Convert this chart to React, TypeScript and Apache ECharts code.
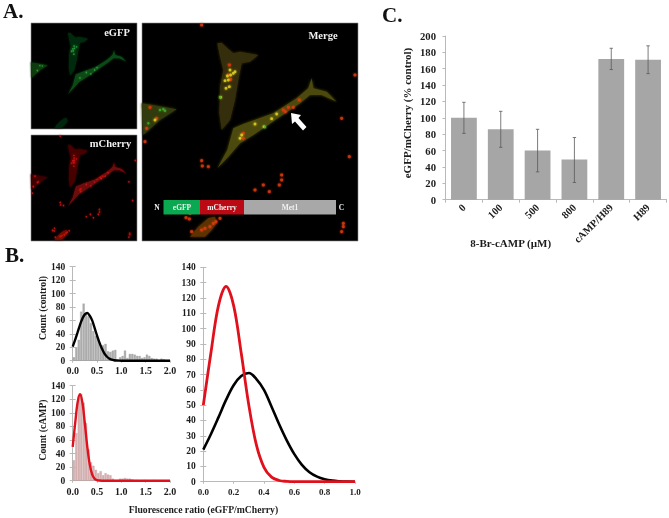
import React, { useEffect, useRef } from "react";
import * as echarts from "echarts";

const FONT = '"Liberation Serif", "Times New Roman", serif';
const INK = "#1c1c1c";
const AXIS = "#b9b9b9";

// Panel C
const doseLabels = ["0", "100", "500", "800", "cAMP/H89", "H89"];
const ratioMeans = [100, 86, 60, 49, 172, 171];
const ratioLows = [81, 64, 34, 21, 159, 154];
const ratioHighs = [119, 108, 86, 76, 185, 188];

// Panel B histograms, bins of 0.05 from 0 to 2
const controlCounts = [5, 20, 31, 73, 85, 71, 66, 56, 44, 37, 31, 23, 23, 25, 14, 13, 15, 16, 2, 5, 7, 15, 4, 10, 10, 9, 7, 7, 4, 5, 9, 7, 4, 3, 3, 1, 3, 2, 1, 1];
const campCounts = [30, 70, 125, 128, 115, 85, 46, 27, 22, 16, 11, 14, 8, 11, 9, 8, 3, 1, 1, 3, 3, 4, 3, 3, 2, 1, 1, 0, 0, 1, 0, 0, 0, 1, 0, 0, 0, 0, 0, 0];

// Panel B fitted curves
const curveX = [0, 0.05, 0.1, 0.15, 0.2, 0.25, 0.3, 0.35, 0.4, 0.45, 0.5, 0.55, 0.6, 0.65, 0.7, 0.75, 0.8, 0.85, 0.9, 0.95, 1];
const controlCurve = [21, 31, 42, 53.4, 63, 69, 71, 67, 60, 49, 37.5, 27, 18, 11, 6.2, 3.3, 1.6, 0.7, 0.3, 0.1, 0];
const campCurve = [50, 84, 115, 127.5, 115, 84, 50, 24, 9.4, 3, 0.8, 0.2, 0, 0, 0, 0, 0, 0, 0, 0, 0];

// Panel A micrograph outlines and spots, in crop coordinates of the merged image
const mainCell = [[232, 445], [262, 390], [280, 325], [310, 312], [400, 280], [470, 235], [505, 205], [515, 175], [520, 205], [560, 215], [590, 245], [545, 225], [510, 225], [480, 250], [420, 290], [340, 345], [300, 370], [265, 410]];
const upperCell = [[232, 70], [245, 68], [262, 85], [280, 100], [300, 95], [325, 100], [355, 105], [330, 125], [305, 130], [295, 180], [285, 240], [270, 300], [245, 330], [238, 280], [240, 200], [250, 150], [240, 110]];
const leftCell = [[5, 250], [40, 255], [110, 268], [60, 300], [10, 345]];
const lowerCell = [[150, 650], [175, 620], [205, 595], [225, 590], [230, 610], [215, 630], [195, 650]];
const yellowSpots = [[280, 160], [272, 165], [285, 155], [265, 180], [255, 182], [268, 200], [258, 205], [242, 232], [410, 282], [345, 312], [372, 320], [300, 355], [305, 345], [395, 296], [45, 300], [262, 168], [270, 150]];
const redSpots = [[268, 135], [265, 165], [272, 178], [30, 262], [50, 295], [20, 325], [430, 270], [445, 262], [460, 262], [478, 240], [436, 275], [310, 355], [310, 340], [185, 15], [645, 165], [605, 295], [628, 410], [187, 438], [15, 365], [370, 495], [388, 515], [425, 465], [425, 480], [418, 495], [345, 510], [185, 422], [205, 440], [150, 580], [148, 597], [138, 593], [610, 620], [605, 635], [610, 610], [155, 635], [185, 630], [228, 605], [240, 595], [210, 620], [195, 625], [220, 610]];
const greenSpots = [[75, 272], [60, 270], [25, 310], [240, 232], [375, 322], [70, 268]];

const abs = ([zx, zy]: number[]) => [140 + zx / 3, 20 + zy / 3];
const toSmall = (top: number) => ([x, y]: number[]) => [31 + (x - 142) * 0.49, top + (y - 23) * 0.49];
const pairs = (ys: number[]) => curveX.map((x, i) => [x, ys[i]]);
const longPairs = (ys: number[]) => [...pairs(ys), [2, 0]];
const bins = (counts: number[]) => counts.map((c, i) => [i * 0.05 + 0.025, c]);

function panel(x: number, y: number, size: number, h: number, map: (p: number[]) => number[], colors: any, k: number) {
  const out: any[] = [
    { type: "rect", shape: { x, y, width: size, height: h }, style: { fill: "#000", stroke: "#8a8a8a", lineWidth: 0.6 }, z: 1 },
  ];
  const poly = (pts: number[][], fill: string) =>
    out.push({ type: "polygon", shape: { points: pts.map(abs).map(map) }, style: { fill, shadowBlur: 3 * k, shadowColor: fill }, z: 2 });
  poly(upperCell, colors.upper);
  poly(leftCell, colors.left);
  poly(lowerCell, colors.lower);
  poly(mainCell, colors.main);
  const dots = (pts: number[][], fill: string, r: number) =>
    pts.forEach((p) => {
      const [cx, cy] = map(abs(p));
      if (fill) out.push({ type: "circle", shape: { cx, cy, r: r * k }, style: { fill, opacity: 0.85, shadowBlur: 2, shadowColor: fill }, z: 3 });
    });
  dots(redSpots, colors.red, 1.6);
  dots(yellowSpots, colors.yellow, 1.4);
  dots(greenSpots, colors.green, 1.2);
  return out;
}

const label = (text: string, x: number, y: number, size: number, fill = INK, align = "center", rotation = 0) => ({
  type: "text",
  x,
  y,
  rotation,
  z: 6,
  style: { text, fill, font: `bold ${size}px ${FONT}`, textAlign: align, textVerticalAlign: "middle" },
});

const grids = [
  { left: 445.5, top: 36, width: 221, height: 163.7 },
  { left: 72.7, top: 266.7, width: 97.3, height: 94 },
  { left: 72.7, top: 385.7, width: 97.3, height: 95 },
  { left: 203.3, top: 267.3, width: 151.7, height: 214.4 },
];

const axisLine = { show: true, lineStyle: { color: AXIS, width: 1 } };

function valueX(gridIndex: number, max: number, interval: number, size: number, margin: number) {
  return {
    type: "value", gridIndex, min: 0, max, interval,
    splitLine: { show: false },
    axisLine,
    axisTick: { show: true, length: 2, lineStyle: { color: AXIS } },
    axisLabel: { color: INK, fontFamily: FONT, fontWeight: "bold", fontSize: size, margin, formatter: (v: number) => v.toFixed(1) },
  };
}
function valueY(gridIndex: number, max: number, interval: number, size: number, margin: number) {
  return {
    type: "value", gridIndex, min: 0, max, interval,
    splitLine: { show: false },
    axisLine,
    axisTick: { show: true, length: 3, lineStyle: { color: AXIS } },
    axisLabel: { color: INK, fontFamily: FONT, fontWeight: "bold", fontSize: size, margin },
  };
}
function innerTicks(gridIndex: number, max: number, interval: number) {
  return {
    type: "value", gridIndex, min: 0, max, interval, position: "left",
    splitLine: { show: false },
    axisLine: { show: false },
    axisTick: { show: true, inside: true, length: 3, lineStyle: { color: AXIS } },
    axisLabel: { show: false },
  };
}

function histBar(name: string, i: number, data: number[], color: string, edge: string) {
  return {
    name, type: "bar", xAxisIndex: i, yAxisIndex: i, data: bins(data), barWidth: 2.1,
    itemStyle: { color, borderColor: edge, borderWidth: 0.3 }, z: 2,
  };
}
function curve(name: string, xi: number, yi: number, data: number[][], color: string, width: number, z = 3) {
  return {
    name, type: "line", xAxisIndex: xi, yAxisIndex: yi, data, showSymbol: false, symbol: "none", smooth: 0.35,
    clip: false, lineStyle: { color, width }, z,
  };
}

function buildGraphic() {
  const greenCols = { main: "#0a4a14", upper: "#062c0c", left: "#083a10", lower: "#05280a", red: "", yellow: "#2fa83e", green: "#2fa83e" };
  const redCols = { main: "#6a0808", upper: "#460606", left: "#3a0505", lower: "#6a0c06", red: "#c81414", yellow: "#c81414", green: "" };
  const mergeCols = { main: "#4c4a0c", upper: "#362e08", left: "#323a0a", lower: "#5c3206", red: "#d83a10", yellow: "#e0d01c", green: "#38b428" };
  const V = Math.PI / 2;
  const elements: any[] = [
    ...panel(31, 23, 106, 106, toSmall(23), greenCols, 0.55),
    ...panel(31, 135, 106, 106, toSmall(135), redCols, 0.55),
    ...panel(142, 23, 216, 218, (p) => p, mergeCols, 1),
    label("eGFP", 117, 32, 10.5, "#f0f0f0"),
    label("mCherry", 110.5, 143, 10.5, "#f0f0f0"),
    label("Merge", 323, 35.5, 10.5, "#f0f0f0"),
    { type: "polygon", shape: { points: [[291, 113], [301, 115], [298.5, 118], [306.5, 127], [303, 130.5], [295, 121.5], [292, 124]] }, style: { fill: "#fff" }, z: 5 },
    { type: "rect", shape: { x: 163.5, y: 200, width: 36.5, height: 14.5 }, style: { fill: "#0aa850" }, z: 4 },
    { type: "rect", shape: { x: 200, y: 200, width: 44, height: 14.5 }, style: { fill: "#bb0a14" }, z: 4 },
    { type: "rect", shape: { x: 244, y: 200, width: 92, height: 14.5 }, style: { fill: "#a8a8a8" }, z: 4 },
    label("N", 157, 207.5, 7.5, "#f0f0f0"),
    label("eGFP", 182, 207.5, 7.5, "#f0f0f0"),
    label("mCherry", 222, 207.5, 7.5, "#f0f0f0"),
    label("Met1", 290, 207.5, 7.5, "#f0f0f0"),
    label("C", 341.5, 207.5, 7.5, "#f0f0f0"),
    label("A.", 3, 11, 21, "#111", "left"),
    label("B.", 5, 255, 21, "#111", "left"),
    label("C.", 382, 15, 21, "#111", "left"),
    label("Fluorescence ratio (eGFP/mCherry)", 203.5, 509, 9.7),
    label("8-Br-cAMP (\u00b5M)", 510.7, 243, 11),
    label("eGFP/mCherry (% control)", 406.5, 113, 11, INK, "center", V),
    label("Count (control)", 42, 308, 9.7, INK, "center", V),
    label("Count (cAMP)", 42, 430, 9.7, INK, "center", V),
  ];
  return elements;
}

export default function App() {
  const ref = useRef<HTMLDivElement>(null);
  useEffect(() => {
    const chart = echarts.init(ref.current!, null, { renderer: "svg" });
    chart.setOption({
      animation: false,
      backgroundColor: "#fff",
      grid: grids,
      xAxis: [
        {
          type: "category", gridIndex: 0, data: doseLabels,
          axisLine,
          axisTick: { show: true, length: 3, lineStyle: { color: AXIS } },
          axisLabel: { color: INK, fontFamily: FONT, fontWeight: "bold", fontSize: 10.5, rotate: 45, margin: 6, interval: 0 },
        },
        valueX(1, 2, 0.5, 10, 5),
        valueX(2, 2, 0.5, 10, 6),
        valueX(3, 1, 0.2, 9, 6),
      ],
      yAxis: [
        valueY(0, 200, 20, 10.7, 9.5),
        valueY(1, 140, 20, 9.5, 7.5),
        valueY(2, 140, 20, 9.5, 7.5),
        valueY(3, 140, 10, 9.5, 7.5),
        innerTicks(1, 140, 20),
        innerTicks(2, 140, 20),
        innerTicks(3, 140, 10),
      ],
      series: [
        {
          name: "eGFP/mCherry", type: "bar", xAxisIndex: 0, yAxisIndex: 0, data: ratioMeans,
          barWidth: "70%", itemStyle: { color: "#a6a6a6" }, z: 2,
        },
        {
          name: "SD", type: "custom", xAxisIndex: 0, yAxisIndex: 0, z: 3,
          data: doseLabels.map((_, i) => [i, ratioLows[i], ratioHighs[i]]),
          encode: { x: 0, y: [1, 2] },
          renderItem: (_: any, api: any) => {
            const lo = api.coord([api.value(0), api.value(1)]);
            const hi = api.coord([api.value(0), api.value(2)]);
            const st = { stroke: "#5a5a5a", lineWidth: 0.8 };
            const seg = (x1: number, y1: number, x2: number, y2: number) => ({ type: "line", shape: { x1, y1, x2, y2 }, style: st });
            return {
              type: "group",
              children: [
                seg(lo[0], lo[1], hi[0], hi[1]),
                seg(lo[0] - 1.7, lo[1], lo[0] + 1.7, lo[1]),
                seg(hi[0] - 1.7, hi[1], hi[0] + 1.7, hi[1]),
              ],
            };
          },
        },
        histBar("Control counts", 1, controlCounts, "#b0b0b0", "#8c8c8c"),
        curve("Control fit", 1, 1, longPairs(controlCurve), "#000", 2.4),
        histBar("cAMP counts", 2, campCounts, "#d8b4b4", "#b88a8a"),
        curve("cAMP fit", 2, 2, longPairs(campCurve), "#e0101c", 2.4),
        curve("Control fit overlay", 3, 3, pairs(controlCurve), "#000", 2.6, 3),
        curve("cAMP fit overlay", 3, 3, pairs(campCurve), "#e0101c", 2.8, 4),
      ],
      graphic: { elements: buildGraphic() },
    });
    return () => chart.dispose();
  }, []);
  return (
    <div
      ref={ref}
      style={{ position: "fixed", left: 0, top: 0, width: 669, height: 518, background: "#fff", filter: "blur(0.45px)" }}
    />
  );
}
